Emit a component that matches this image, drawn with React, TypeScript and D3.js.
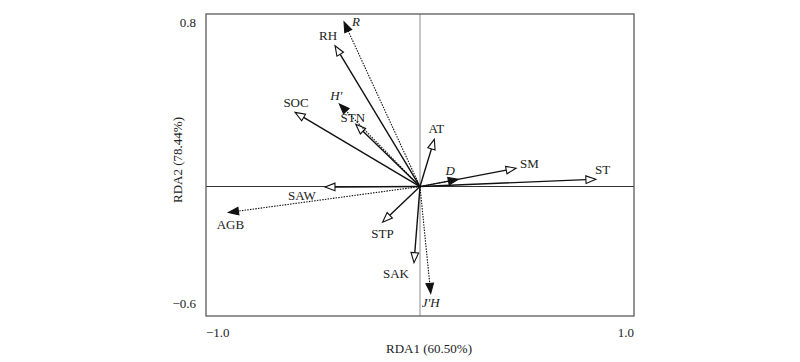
import React from "react";
import * as d3 from "d3";

const envNames = ["RH", "SOC", "STN", "AT", "SM", "ST", "SAW", "STP", "SAK"];
const envX = [-0.397, -0.584, -0.300, 0.067, 0.449, 0.822, -0.444, -0.175, -0.028];
const envY = [0.653, 0.344, 0.289, 0.219, 0.085, 0.034, -0.002, -0.165, -0.353];

const divNames = ["R", "H'", "D", "AGB", "J'H"];
const divX = [-0.355, -0.377, 0.179, -0.895, 0.050];
const divY = [0.763, 0.383, 0.034, -0.120, -0.495];
const italicNames = ["R", "H'", "D", "J'H"];

const xDomain = [-1.0, 1.0];
const yDomain = [-0.6, 0.8];
const xTickLabels = ["\u22121.0", "1.0"];
const yTickLabels = ["0.8", "\u22120.6"];
const xTitle = "RDA1 (60.50%)";
const yTitle = "RDA2 (78.44%)";

// label offsets (dx, dy from arrow tip, text-anchor)
const labelPos: Record<string, [number, number, string]> = {
  RH: [-7, -6, "middle"],
  SOC: [1, -5, "middle"],
  STN: [-3, -2, "middle"],
  AT: [2, -6, "middle"],
  SM: [4, 0, "start"],
  ST: [-1, -5, "start"],
  SAW: [-23, 13, "middle"],
  STP: [0, 16, "middle"],
  SAK: [-18, 15, "middle"],
  R: [8, 4, "start"],
  "H'": [-3, -4, "middle"],
  D: [-8, -4, "middle"],
  AGB: [2, 17, "middle"],
  "J'H": [0, 14, "middle"],
};

const FONT = "Liberation Serif, Times New Roman, Times, serif";

export default function App() {
  const left = 206, right = 634, top = 14, bottom = 316;
  const x = d3.scaleLinear().domain(xDomain).range([left, right]);
  const y = d3.scaleLinear().domain(yDomain).range([bottom, top]);
  const x0 = x(0), y0 = y(0);

  const headLen = 10, headHalf = 3.8;

  const arrow = (name: string, vx: number, vy: number, dotted: boolean) => {
    const tx = x(vx), ty = y(vy);
    const dx = tx - x0, dy = ty - y0;
    const len = Math.sqrt(dx * dx + dy * dy);
    const ux = dx / len, uy = dy / len;
    const bx = tx - ux * headLen, by = ty - uy * headLen;
    const px = -uy, py = ux;
    const pts = [
      [tx, ty],
      [bx + px * headHalf, by + py * headHalf],
      [bx - px * headHalf, by - py * headHalf],
    ];
    const lp = labelPos[name] || [0, 0, "middle"];
    const italic = italicNames.includes(name);
    return (
      <g key={name}>
        <line
          x1={x0}
          y1={y0}
          x2={bx}
          y2={by}
          stroke="#111"
          strokeWidth={dotted ? 1.1 : 1.4}
          strokeDasharray={dotted ? "1.5,1.2" : undefined}
        />
        <polygon
          points={pts.map((p) => p.join(",")).join(" ")}
          fill={dotted ? "#111" : "#fff"}
          stroke="#111"
          strokeWidth={1.1}
          strokeLinejoin="miter"
        />
        <text
          x={tx + lp[0]}
          y={ty + lp[1]}
          textAnchor={lp[2] as any}
          fontFamily={FONT}
          fontSize={13}
          fontStyle={italic ? "italic" : "normal"}
          fill="#222"
        >
          {name}
        </text>
      </g>
    );
  };

  return (
    <svg
      width={800}
      height={362}
      style={{ position: "absolute", left: 0, top: 0, background: "#fff" }}
    >
      <rect x={0} y={0} width={800} height={362} fill="#fff" />
      <line x1={x0} y1={top} x2={x0} y2={bottom} stroke="#a0a0a0" strokeWidth={1.2} />
      <line x1={left} y1={y0} x2={right} y2={y0} stroke="#333" strokeWidth={1.1} />
      <rect
        x={left}
        y={top}
        width={right - left}
        height={bottom - top}
        fill="none"
        stroke="#666"
        strokeWidth={1.4}
      />
      {envNames.map((n, i) => arrow(n, envX[i], envY[i], false))}
      {divNames.map((n, i) => arrow(n, divX[i], divY[i], true))}
      <text x={x(xDomain[0])} y={bottom + 21} fontFamily={FONT} fontSize={13} fill="#222">
        {xTickLabels[0]}
      </text>
      <text x={x(xDomain[1])} y={bottom + 21} textAnchor="end" fontFamily={FONT} fontSize={13} fill="#222">
        {xTickLabels[1]}
      </text>
      <text x={left - 10} y={y(yDomain[1]) + 13} textAnchor="end" fontFamily={FONT} fontSize={13} fill="#222">
        {yTickLabels[0]}
      </text>
      <text x={left - 10} y={y(yDomain[0]) - 8} textAnchor="end" fontFamily={FONT} fontSize={13} fill="#222">
        {yTickLabels[1]}
      </text>
      <text x={429} y={353} textAnchor="middle" fontFamily={FONT} fontSize={13} fill="#222">
        {xTitle}
      </text>
      <text
        transform={`translate(182, 160) rotate(-90)`}
        textAnchor="middle"
        fontFamily={FONT}
        fontSize={13}
        fill="#222"
      >
        {yTitle}
      </text>
    </svg>
  );
}
